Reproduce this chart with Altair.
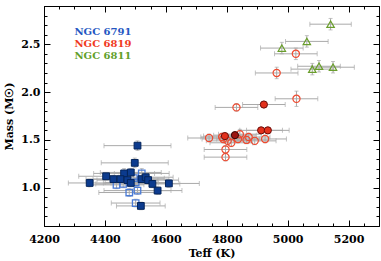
import altair as alt
import pandas as pd

# ---------------- data ----------------
# NGC 6791 - filled (dark blue squares)
b_f_T = [4507, 4498, 4350, 4404, 4428, 4463, 4451, 4485, 4474, 4485, 4520, 4534, 4542, 4556, 4573, 4610, 4518]
b_f_M = [1.44, 1.26, 1.05, 1.12, 1.09, 1.15, 1.09, 1.16, 1.08, 1.05, 1.09, 1.11, 1.08, 1.04, 0.97, 1.045, 0.81]
b_f_Te = [110, 110, 70, 90, 90, 100, 90, 100, 100, 90, 90, 90, 100, 90, 80, 100, 80]
b_f_Me = [0.05, 0.05, 0.04, 0.04, 0.04, 0.05, 0.04, 0.04, 0.04, 0.04, 0.04, 0.04, 0.04, 0.04, 0.04, 0.04, 0.04]
# NGC 6791 - open (light blue squares)
b_o_T = [4521, 4501, 4438, 4460, 4480, 4507, 4501, 4495]
b_o_M = [1.15, 1.055, 1.03, 1.04, 0.95, 0.97, 0.84, 1.10]
b_o_Te = [90, 100, 90, 90, 100, 110, 80, 100]
b_o_Me = [0.05, 0.04, 0.04, 0.04, 0.04, 0.04, 0.04, 0.04]
# NGC 6819 - open red circles
r_o_T = [5027, 4964, 5029, 4832, 4742, 4843, 4872, 4865, 4892, 4926, 4789, 4803, 4837, 4796, 4796, 4785, 4815]
r_o_M = [2.40, 2.20, 1.93, 1.84, 1.52, 1.56, 1.53, 1.50, 1.49, 1.51, 1.51, 1.49, 1.51, 1.40, 1.32, 1.53, 1.47]
r_o_Te = [70, 70, 70, 70, 70, 70, 70, 70, 70, 70, 70, 70, 70, 70, 70, 70, 70]
r_o_Me = [0.06, 0.06, 0.08, 0.04, 0.04, 0.05, 0.04, 0.04, 0.04, 0.04, 0.04, 0.04, 0.04, 0.04, 0.04, 0.04, 0.04]
# NGC 6819 - filled red circles
r_f_T = [4922, 4913, 4935, 4794]
r_f_M = [1.87, 1.60, 1.60, 1.54]
r_f_Te = [70, 70, 70, 70]
r_f_Me = [0.03, 0.03, 0.03, 0.03]
# NGC 6819 - filled dark red circle
r_d_T = [4827]
r_d_M = [1.55]
r_d_Te = [70]
r_d_Me = [0.03]
# NGC 6811 - green triangles
g_T = [5141, 5063, 4981, 5081, 5103, 5149]
g_M = [2.71, 2.53, 2.46, 2.24, 2.27, 2.26]
g_Te = [68, 70, 70, 70, 70, 70]
g_Me = [0.06, 0.06, 0.06, 0.06, 0.06, 0.06]

legend_names = ["NGC 6791", "NGC 6819", "NGC 6811"]
legend_colors = ["#2456c2", "#f03a22", "#62a02a"]
legend_M = [2.625, 2.50, 2.38]

x_major = [4200, 4400, 4600, 4800, 5000, 5200]
x_minor = list(range(4200, 5301, 50))
y_major = [1.0, 1.5, 2.0, 2.5]
y_minor = [round(0.6 + 0.1 * i, 1) for i in range(24)]


def frame(T, M, Te, Me):
    return pd.DataFrame({
        "T": T, "M": M,
        "xlo": [t - e for t, e in zip(T, Te)], "xhi": [t + e for t, e in zip(T, Te)],
        "ylo": [m - e for m, e in zip(M, Me)], "yhi": [m + e for m, e in zip(M, Me)],
    })


b_f = frame(b_f_T, b_f_M, b_f_Te, b_f_Me)
b_o = frame(b_o_T, b_o_M, b_o_Te, b_o_Me)
r_o = frame(r_o_T, r_o_M, r_o_Te, r_o_Me)
r_f = frame(r_f_T, r_f_M, r_f_Te, r_f_Me)
r_d = frame(r_d_T, r_d_M, r_d_Te, r_d_Me)
g = frame(g_T, g_M, g_Te, g_Me)
all_df = pd.concat([b_f, b_o, r_o, r_f, r_d, g], ignore_index=True)
legend_df = pd.DataFrame({"name": legend_names, "M": legend_M, "color": legend_colors})

xs = alt.Scale(domain=[4200, 5300], nice=False, zero=False)
ys = alt.Scale(domain=[0.6, 2.9], nice=False, zero=False)
GRAY = "#a9a9a9"
FONT = "DejaVu Serif"


def X(field, **kw):
    return alt.X(field, type="quantitative", scale=xs, **kw)


def Y(field, **kw):
    return alt.Y(field, type="quantitative", scale=ys, **kw)


base = alt.Chart(all_df)
err = [
    base.mark_rule(color=GRAY, strokeWidth=1).encode(x=X("xlo:Q", axis=None), x2="xhi:Q", y=Y("M:Q", axis=None)),
    base.mark_tick(orient="vertical", size=5, thickness=1, color=GRAY).encode(x=X("xlo:Q", axis=None), y=Y("M:Q", axis=None)),
    base.mark_tick(orient="vertical", size=5, thickness=1, color=GRAY).encode(x=X("xhi:Q", axis=None), y=Y("M:Q", axis=None)),
    base.mark_rule(color=GRAY, strokeWidth=1).encode(x=X("T:Q", axis=None), y=Y("ylo:Q", axis=None), y2="yhi:Q"),
    base.mark_tick(orient="horizontal", size=4, thickness=1, color=GRAY).encode(x=X("T:Q", axis=None), y=Y("ylo:Q", axis=None)),
    base.mark_tick(orient="horizontal", size=4, thickness=1, color=GRAY).encode(x=X("T:Q", axis=None), y=Y("yhi:Q", axis=None)),
]


def pts(df, **mk):
    return alt.Chart(df).mark_point(opacity=1, **mk).encode(x=X("T:Q", axis=None), y=Y("M:Q", axis=None))


points = [
    pts(b_o, shape="square", filled=False, color="#4a7bd6", strokeWidth=1.3, size=42),
    pts(b_f, shape="square", filled=True, fill="#0c3b8e", stroke="#04245a", strokeWidth=1, size=46),
    pts(r_o, shape="circle", filled=False, color="#ee4a30", strokeWidth=1.2, size=52),
    pts(r_f, shape="circle", filled=True, fill="#e3301c", stroke="#6a0c08", strokeWidth=1, size=52),
    pts(r_d, shape="circle", filled=True, fill="#9c1410", stroke="#3a0503", strokeWidth=1, size=52),
    pts(g, shape="triangle-up", filled=False, color="#6a9e2c", strokeWidth=1.2, size=55),
]

legend = alt.Chart(legend_df).mark_text(
    align="left", baseline="middle", font=FONT, fontSize=10, fontWeight="bold"
).encode(
    x=alt.datum(4300, scale=xs, axis=None),
    y=Y("M:Q", axis=None),
    text="name:N",
    color=alt.Color("color:N", scale=None, legend=None),
)

axis_common = dict(domain=False, grid=False, tickColor="black", tickWidth=1,
                   labelFont=FONT, labelFontSize=11, labelFontWeight="bold", labelColor="black",
                   titleFont=FONT, titleFontSize=11, titleFontWeight="bold", titleColor="black",
                   labelOverlap=False, labelFlush=False, labelBound=False)

inv = alt.Chart(all_df).mark_point(opacity=0)
axes = [
    inv.encode(
        x=X("T:Q", axis=alt.Axis(orient="bottom", values=x_major, tickSize=6, offset=-6, labelPadding=7,
                                 title="Teff (K)", titlePadding=3, format="d", **axis_common)),
        y=Y("M:Q", axis=alt.Axis(orient="left", values=y_major, tickSize=6, offset=-6, labelPadding=4,
                                 title="Mass (M☉)", titlePadding=6, format=".1f", **axis_common)),
    ),
    inv.encode(
        x=X("T:Q", axis=alt.Axis(orient="bottom", values=x_minor, tickSize=3, offset=-3, labels=False, title="", **axis_common)),
        y=Y("M:Q", axis=alt.Axis(orient="left", values=y_minor, tickSize=3, offset=-3, labels=False, title="", **axis_common)),
    ),
    inv.encode(
        x=X("T:Q", axis=alt.Axis(orient="top", values=x_major, tickSize=6, offset=-6, labels=False, title="", **axis_common)),
        y=Y("M:Q", axis=alt.Axis(orient="right", values=y_major, tickSize=6, offset=-6, labels=False, title="", **axis_common)),
    ),
    inv.encode(
        x=X("T:Q", axis=alt.Axis(orient="top", values=x_minor, tickSize=3, offset=-3, labels=False, title="", **axis_common)),
        y=Y("M:Q", axis=alt.Axis(orient="right", values=y_minor, tickSize=3, offset=-3, labels=False, title="", **axis_common)),
    ),
]

chart = alt.layer(*axes, *err, *points, legend).resolve_axis(x="independent", y="independent").properties(
    width=335, height=220,
    autosize=alt.AutoSizeParams(type="none"),
    padding={"left": 44, "top": 6, "right": 2, "bottom": 35},
    background="white",
).configure_view(stroke="black", strokeWidth=1)

chart.save("out.html", embed_options={"renderer": "svg", "actions": False})
